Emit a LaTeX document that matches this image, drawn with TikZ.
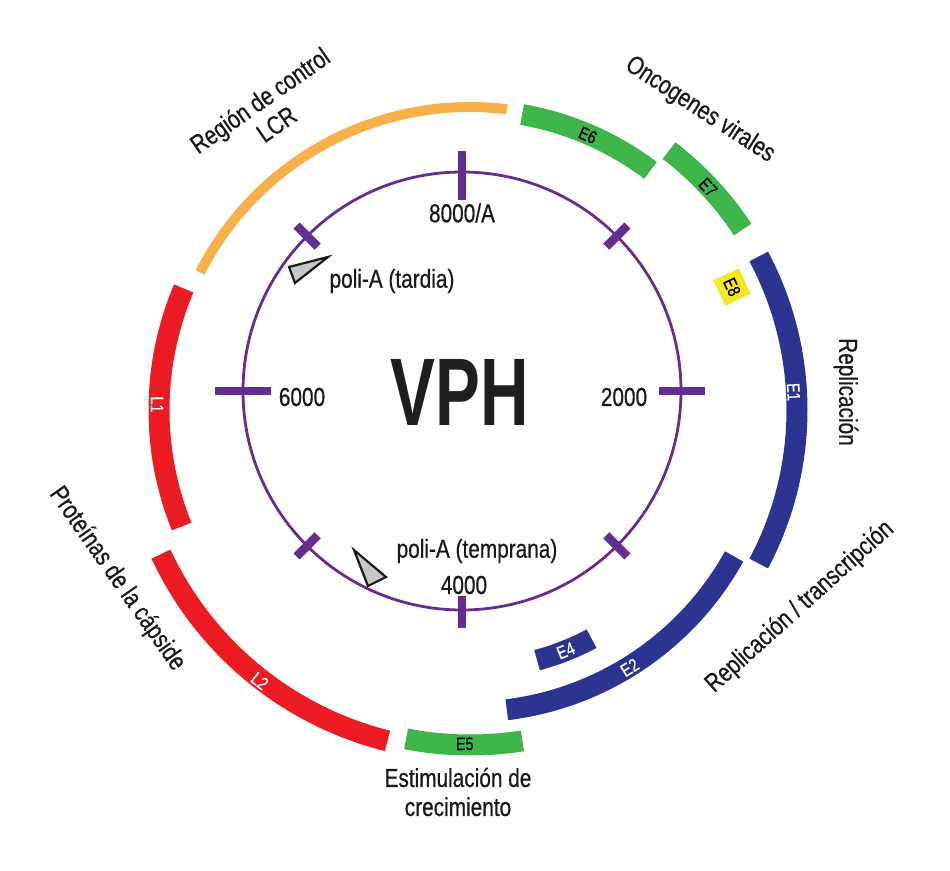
\documentclass[tikz,border=0pt]{standalone}
\usepackage{fontspec}
\setmainfont{Liberation Sans}[FakeStretch=0.8,FakeBold=0.6]
\newfontfamily\vphfont{Liberation Sans}[FakeStretch=0.7]
\definecolor{vpurple}{RGB}{102,45,145}
\definecolor{vorange}{RGB}{248,176,74}
\definecolor{vgreen}{RGB}{61,181,74}
\definecolor{vred}{RGB}{237,28,36}
\definecolor{vblue}{RGB}{44,52,145}
\definecolor{vyellow}{RGB}{245,232,30}
\tikzset{
  band/.style={line width=21pt, line cap=butt},
  tickmark/.style={line width=8.5pt, draw=vpurple, line cap=butt},
  lbl/.style={font=\fontsize{26}{29}\selectfont, text=black!90, inner sep=0pt, align=center},
  blbl/.style={font=\fontsize{18}{20}\selectfont, inner sep=0pt},
  tri/.style={fill=black!22, draw=black!90, line width=2.2pt, line join=miter}
}
\begin{document}
\begin{tikzpicture}[x=1pt,y=1pt]
\useasboundingbox (-470,-460) rectangle (480,410);
\fill[white] (-470,-460) rectangle (480,410);

% outer bands (centre at origin)
\draw[line width=10pt, line cap=butt, draw=vorange] (83:303pt) arc[start angle=83, end angle=153, radius=303pt];
\draw[band, draw=vgreen] (80:300pt) arc[start angle=80, end angle=53, radius=300pt];
\draw[band, draw=vgreen] (52.5:327pt) arc[start angle=52.5, end angle=33.5, radius=327pt];
\draw[band, draw=vblue] (28:327pt) arc[start angle=28, end angle=-28, radius=327pt];
\draw[band, draw=vblue] (-29:302pt) arc[start angle=-29, end angle=-83, radius=302pt];
\draw[band, draw=vblue] (-62:259pt) arc[start angle=-62, end angle=-75, radius=259pt];
\draw[band, draw=vgreen] (-81:335pt) arc[start angle=-81, end angle=-101, radius=335pt];
\draw[band, draw=vred] (256:341pt) arc[start angle=256, end angle=205, radius=341pt];
\draw[band, draw=vred] (202:311pt) arc[start angle=202, end angle=157, radius=311pt];

% band labels
\node[blbl, rotate=-23] (e6) at (66.8:299pt) {E6};
\node[blbl, rotate=-47] (e7) at (43.1:326pt) {E7};
\node[blbl, rotate=-87, text=white] (e1) at (3.2:324pt) {E1};
\node[blbl, rotate=32, text=white] (e2) at (-58.2:303pt) {E2};
\node[blbl, rotate=22, text=white] (e4) at (-68.3:259pt) {E4};
\node[blbl] (e5) at (-90.9:334pt) {E5};
\node[blbl, rotate=-38, text=white] (l2) at (232.2:343pt) {L2};
\node[blbl, rotate=-90, text=white] (l1) at (179:313pt) {L1};
\node[blbl, rotate=-65, fill=vyellow, minimum size=28pt] (e8) at (262,123) {E8};

% inner circle
\begin{scope}[shift={(-8,19)}]
  \coordinate (ic) at (0,0);
  \draw[vpurple, line width=2.8pt] (ic) circle[radius=219pt];
  \draw[tickmark] (90:191pt) -- (90:240pt);
  \draw[tickmark] (180:191pt) -- (180:247pt);
  \draw[tickmark] (0:197pt) -- (0:243pt);
  \draw[tickmark] (270:205pt) -- (270:237pt);
  \foreach \a in {45,135,225,315} \draw[tickmark] (\a:204pt) -- (\a:234pt);
\end{scope}

% triangles
\draw[tri] (-142,153) -- (-181,143) -- (-175,127) -- cycle;
\draw[tri] (-116,-140) -- (-84,-167) -- (-102,-176) -- cycle;

% inner labels
\node[lbl] (n8000) at (-8,197) {8000/A};
\node[lbl] (n6000) at (-168,13) {6000};
\node[lbl] (n2000) at (154,13) {2000};
\node[lbl] (n4000) at (-6,-175) {4000};
\node[lbl] (ptemp) at (7,-141) {poli-A (temprana)};
\node[lbl] (ptard) at (-78,129) {poli-A (tardia)};
\node[inner sep=0pt, text=black!88, font=\vphfont\bfseries\fontsize{96}{100}\selectfont] (vph) at (-10,18) {VPH};

% outer labels
\node[lbl, rotate=35] (lcr) at (-202,298) {Región de control\\LCR};
\node[lbl, rotate=-33] (onco) at (230,300) {Oncogenes virales};
\node[lbl, rotate=-90] (repl) at (376,18) {Replicación};
\node[lbl, rotate=42] (rept) at (330,-197) {Replicación / transcripción};
\node[lbl, rotate=-55] (caps) at (-353,-169) {Proteínas de la cápside};
\node[lbl] (estim) at (-12,-382) {Estimulación de\\crecimiento};
\end{tikzpicture}
\end{document}
